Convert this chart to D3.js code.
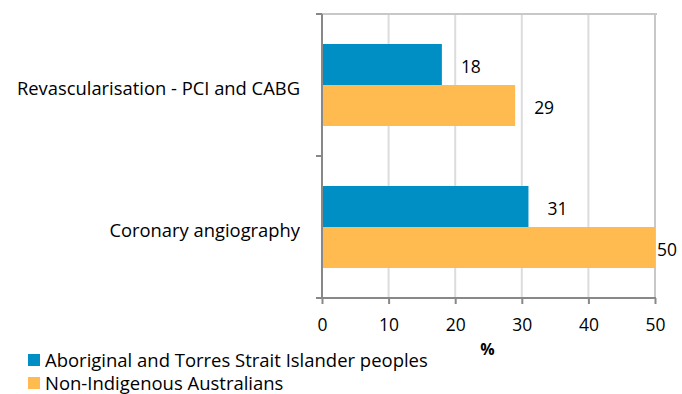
<!DOCTYPE html>
<html><head><meta charset="utf-8">
<script src="https://cdn.jsdelivr.net/npm/d3@7"></script>
<style>body{margin:0;background:#fff}svg{display:block}</style>
</head><body>
<svg id="c" width="682" height="394"></svg>
<script>
const categories = ["Revascularisation - PCI and CABG", "Coronary angiography"];
const seriesNames = ["Aboriginal and Torres Strait Islander peoples", "Non-Indigenous Australians"];
const indigenous = [18, 31];
const nonIndigenous = [29, 50];
const xTicks = [0, 10, 20, 30, 40, 50];
const xTitle = "%";
const colors = ["#008FC5", "#FFBB4F"];

const font = "'Open Sans', Lato, sans-serif";
const svg = d3.select("#c");
const L = 322, R = 655, T = 14, B = 298;

// fit a selection's font size so that its first node has the target width
function fit(sel, target) {
  const n = sel.node();
  const s = parseFloat(sel.attr("font-size"));
  const w = n.getComputedTextLength();
  sel.attr("font-size", (s * target / w).toFixed(2));
}

const x = d3.scaleLinear().domain([0, 50]).range([L, R]);
const y = d3.scaleBand().domain(categories).range([T, B]).paddingInner(60/142).paddingOuter(30/142);
const sub = d3.scaleBand().domain(seriesNames).range([0, y.bandwidth()]);

const data = categories.map((c, i) => ({cat: c, vals: [indigenous[i], nonIndigenous[i]]}));

// gridlines
svg.append("g").selectAll("line").data(xTicks.slice(1, -1)).join("line")
  .attr("x1", d => x(d)).attr("x2", d => x(d)).attr("y1", T).attr("y2", B)
  .attr("stroke", "#dcdcdc").attr("stroke-width", 2);
// top & right border
svg.append("line").attr("x1", L - 6).attr("x2", R + 2).attr("y1", T).attr("y2", T)
  .attr("stroke", "#c8c8c8").attr("stroke-width", 2);
svg.append("line").attr("x1", R).attr("x2", R).attr("y1", T).attr("y2", B)
  .attr("stroke", "#c8c8c8").attr("stroke-width", 2);

// bars
const g = svg.append("g").selectAll("g").data(data).join("g")
  .attr("transform", d => `translate(0,${y(d.cat)})`);
g.selectAll("rect").data(d => d.vals.map((v, j) => ({v, s: seriesNames[j], j}))).join("rect")
  .attr("x", x(0)).attr("y", d => sub(d.s)).attr("width", d => x(d.v) - x(0))
  .attr("height", sub.bandwidth()).attr("fill", d => colors[d.j]);
const vl = g.selectAll("text").data(d => d.vals.map((v, j) => ({v, s: seriesNames[j], j}))).join("text")
  .attr("x", d => Math.min(x(d.v) + 19, 657)).attr("y", d => sub(d.s) + sub.bandwidth() / 2 + 4)
  .attr("dominant-baseline", "middle")
  .attr("font-family", font).attr("font-size", 17).attr("fill", "#000")
  .text(d => d.v);
fit(vl, 20);

// y axis
const ya = svg.append("g").attr("transform", `translate(${L},0)`);
ya.append("line").attr("x1", 0).attr("x2", 0).attr("y1", T).attr("y2", B).attr("stroke", "#888").attr("stroke-width", 2);
const bounds = [T, ...categories.map(c => y(c) + y.bandwidth() + y.step() * y.paddingInner() / 2).slice(0, -1), B];
ya.selectAll(".yt").data(bounds).join("line").attr("class", "yt")
  .attr("x1", -6).attr("x2", 0).attr("y1", d => d).attr("y2", d => d).attr("stroke", "#888").attr("stroke-width", 2);
const cl = ya.selectAll("text").data(categories).join("text")
  .attr("x", -22).attr("y", d => y(d) + y.bandwidth() / 2 + 5)
  .attr("text-anchor", "end").attr("dominant-baseline", "middle")
  .attr("font-family", font).attr("font-size", 17).attr("fill", "#000").text(d => d);
fit(cl, 283);

// x axis
const xa = svg.append("g").attr("transform", `translate(0,${B})`)
  .call(d3.axisBottom(x).tickValues(xTicks).tickSize(6).tickPadding(15));
xa.select(".domain").attr("stroke", "#888").attr("stroke-width", 2).attr("d", `M${L - 6},0H${R + 1}`);
xa.selectAll(".tick line").attr("stroke", "#888").attr("stroke-width", 2);
const tl = xa.selectAll(".tick text").attr("font-family", font).attr("font-size", 17).attr("fill", "#000");
fit(xa.selectAll(".tick").filter(d => d === 10).select("text"), 20);
tl.attr("font-size", xa.selectAll(".tick").filter(d => d === 10).select("text").attr("font-size"));
svg.append("text").attr("x", (L + R) / 2 - 1).attr("y", 351).attr("text-anchor", "middle")
  .attr("dominant-baseline", "middle").attr("font-family", font).attr("font-size", 16)
  .attr("font-weight", "bold").text(xTitle);

// legend
const lg = svg.append("g").selectAll("g").data(seriesNames).join("g")
  .attr("transform", (d, i) => `translate(28,${354 + i * 23})`);
lg.append("rect").attr("width", 12).attr("height", 12).attr("fill", (d, i) => colors[i]);
const lt = lg.append("text").attr("x", 17).attr("y", 8).attr("dominant-baseline", "middle")
  .attr("font-family", font).attr("font-size", 17).attr("fill", "#000").text(d => d);
fit(lt, 383);
</script>
</body></html>
